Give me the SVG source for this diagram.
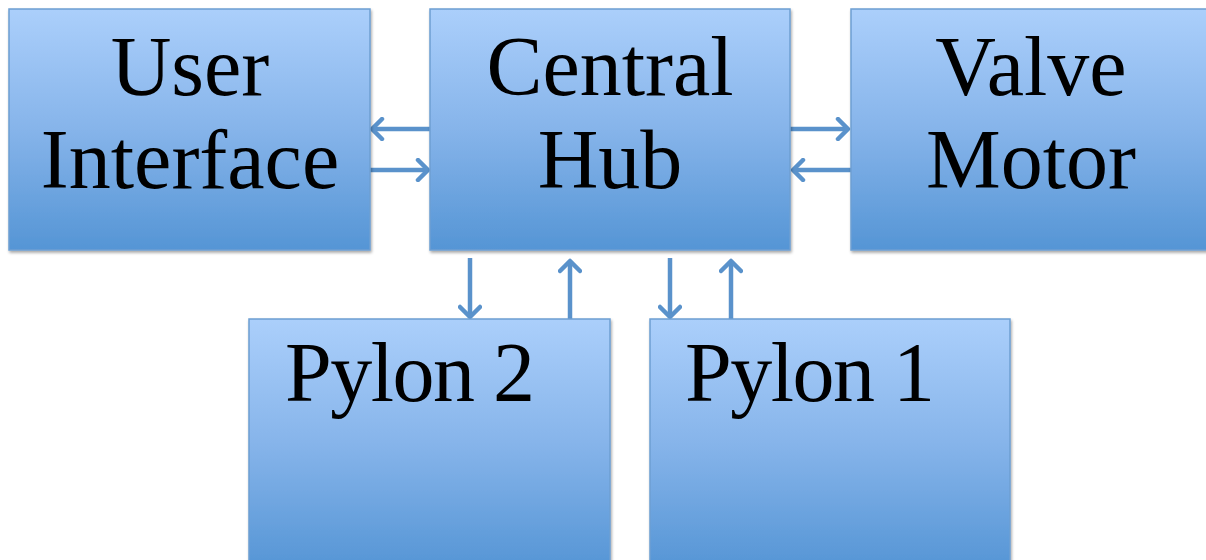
<svg xmlns="http://www.w3.org/2000/svg" width="1206" height="560" viewBox="0 0 1206 560">
  <defs>
    <linearGradient id="boxFill" x1="0" y1="0" x2="0" y2="1">
      <stop offset="0" stop-color="#abcffb"/>
      <stop offset="0.5" stop-color="#86b4ea"/>
      <stop offset="1" stop-color="#5595d5"/>
    </linearGradient>
    <filter id="shadow" x="-5%" y="-5%" width="110%" height="110%">
      <feGaussianBlur in="SourceAlpha" stdDeviation="1.5"/>
      <feOffset dx="1" dy="2" result="b"/>
      <feComponentTransfer><feFuncA type="linear" slope="0.35"/></feComponentTransfer>
      <feMerge><feMergeNode/><feMergeNode in="SourceGraphic"/></feMerge>
    </filter>
    <marker id="head" viewBox="0 0 24 24" refX="21" refY="12" markerWidth="24" markerHeight="24" markerUnits="userSpaceOnUse" orient="auto">
      <path d="M11,2 L21,12 L11,22" fill="none" stroke="#5a92cb" stroke-width="4.5" stroke-linecap="round" stroke-linejoin="round"/>
    </marker>
  </defs>
  <style>
    .box { fill: url(#boxFill); stroke: #6e9fd2; stroke-width: 1.5; filter: url(#shadow); }
    .label { font-family: "Liberation Serif", "DejaVu Serif", serif; font-size: 84px; fill: #000; }
    .mid { text-anchor: middle; }
    .link { stroke: #5a92cb; stroke-width: 4.5; fill: none; marker-end: url(#head); }
  </style>

  <g id="connectors">
    <!-- User Interface <-> Central Hub -->
    <line class="link" x1="430" y1="129" x2="372" y2="129"/>
    <line class="link" x1="370" y1="170" x2="428" y2="170"/>
    <!-- Central Hub <-> Valve Motor -->
    <line class="link" x1="790" y1="129" x2="848" y2="129"/>
    <line class="link" x1="851" y1="170" x2="793" y2="170"/>
    <!-- Central Hub <-> Pylon 2 -->
    <line class="link" x1="470" y1="258" x2="470" y2="317"/>
    <line class="link" x1="570" y1="319" x2="570" y2="261"/>
    <!-- Central Hub <-> Pylon 1 -->
    <line class="link" x1="670" y1="258" x2="670" y2="317"/>
    <line class="link" x1="731" y1="319" x2="731" y2="261"/>
  </g>

  <g id="user-interface">
    <rect class="box" x="9" y="9" width="361" height="241"/>
    <text class="label mid" x="190" y="95">User</text>
    <text class="label mid" x="190" y="188">Interface</text>
  </g>

  <g id="central-hub">
    <rect class="box" x="430" y="9" width="360" height="241"/>
    <text class="label mid" x="610" y="95">Central</text>
    <text class="label mid" x="610" y="188">Hub</text>
  </g>

  <g id="valve-motor">
    <rect class="box" x="851" y="9" width="362" height="241"/>
    <text class="label mid" x="1031" y="95">Valve</text>
    <text class="label mid" x="1031" y="188">Motor</text>
  </g>

  <g id="pylon-2">
    <rect class="box" x="249" y="319" width="361" height="250"/>
    <text class="label" x="285" y="401" textLength="250">Pylon 2</text>
  </g>

  <g id="pylon-1">
    <rect class="box" x="650" y="319" width="360" height="250"/>
    <text class="label" x="685" y="401" textLength="250">Pylon 1</text>
  </g>
</svg>
